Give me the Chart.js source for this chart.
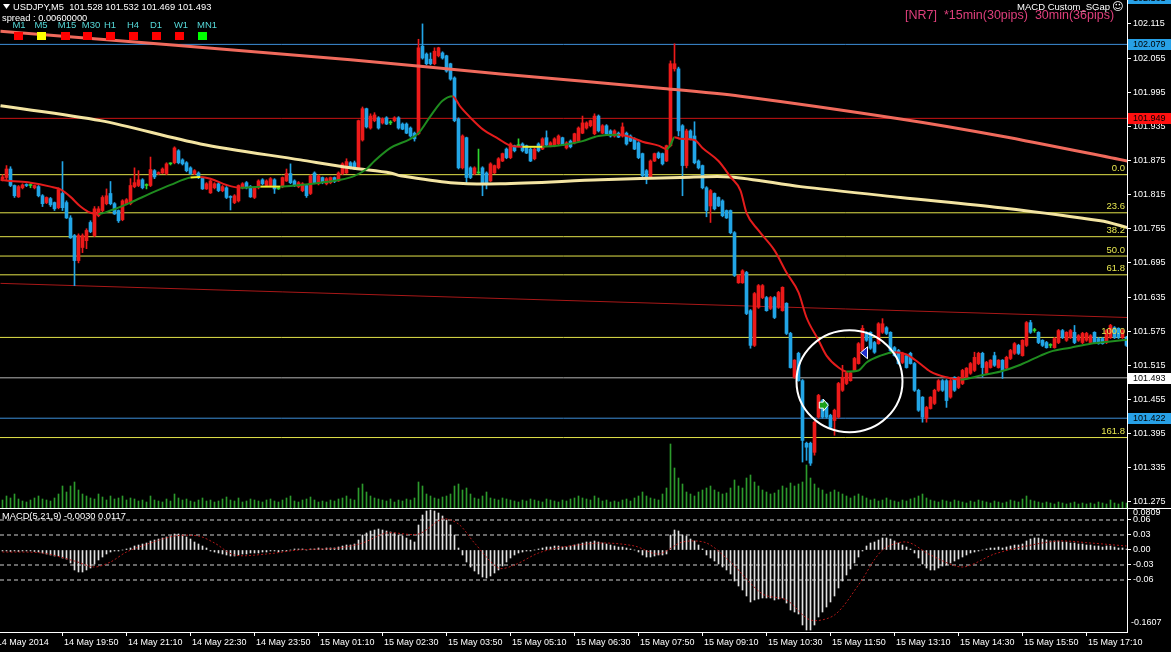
<!DOCTYPE html>
<html>
<head>
<meta charset="utf-8">
<script src="https://cdn.jsdelivr.net/npm/chart.js"></script>
<style>
  body { margin: 0; background: #000; overflow: hidden; }
  #wrap { position: relative; width: 1171px; height: 652px; background: #000; }
  canvas { position: absolute; left: 0; }
</style>
</head>
<body>
<div id="wrap">
  <canvas id="main" width="1171" height="508" style="top:0;width:1171px;height:508px"></canvas>
  <canvas id="macd" width="1171" height="144" style="top:508px;width:1171px;height:144px"></canvas>
</div>
<script>
// prices are kept in thousandths above 101.000 (850 -> 101.850)
const openV = [
  843,845,860,831,811,827,832,831,827,829, 813,801,808,801,792,817,801,774,743,699,
  722,734,766,743,778,787,799,817,799,787, 771,799,799,829,831,841,831,831,857,852,
  853,852,869,871,892,876,871,862,852,853, 845,825,818,827,834,822,827,811,801,804,
  827,836,829,810,827,841,831,831,841,825, 829,839,852,839,829,822,831,817,853,834,
  845,834,836,845,839,852,853,871,871,862, 911,966,932,945,950,941,950,941,945,950,
  939,939,932,923,922,1076,1062,1053,1045,1059, 1064,1059,1045,1020,948,862,915,862,852,853,
  862,853,839,853,862,874,895,880,901,901, 904,901,895,878,904,895,915,901,901,904,
  915,897,909,906,909,923,932,936,922,953, 923,936,927,918,923,918,923,918,913,906,
  887,857,845,874,888,887,874,901,1036,1036, 936,866,927,918,874,866,827,795,817,810,
  804,787,787,748,660,660,678,611,550,617, 634,634,615,634,617,611,624,571,494,536,
  488,378,378,362,424,453,448,427,418,424, 471,483,488,506,518,541,573,573,555,553,
  573,581,573,546,541,520,532,536,518,471, 459,422,439,448,471,488,488,459,494,476,
  483,494,501,506,518,536,501,511,532,511, 524,510,527,536,550,532,550,590,576,573,
  559,555,550,546,555,576,559,564,573,559, 555,559,555,573,562,562,555,564,581,580,
  564,564
];
const closeV = [
  846,860,831,813,829,832,831,831,831,813, 799,810,797,790,824,792,774,739,699,743,
  743,752,750,790,790,810,813,799,781,769, 804,806,831,836,841,827,831,859,846,853,
  860,869,869,897,871,869,857,852,857,845, 825,834,839,834,822,829,810,810,813,831,
  834,827,811,827,839,834,839,843,825,825, 845,852,836,831,836,834,813,848,836,848,
  836,843,845,838,853,869,873,862,860,945, 966,934,953,955,932,948,939,941,950,932,
  930,923,918,913,1073,1055,1045,1045,1067,1073, 1055,1032,1018,945,862,918,845,845,862,853,
  836,836,869,866,878,887,880,904,892,901, 892,888,874,895,892,913,902,906,913,918,
  902,906,899,922,932,941,941,945,953,927, 936,922,918,927,916,934,904,909,895,880,
  848,845,874,887,880,869,901,1045,1045,927, 866,927,913,871,862,827,787,822,790,795,
  778,774,748,673,673,681,606,550,641,655, 655,611,634,599,643,652,571,511,524,488,
  383,371,343,415,462,424,424,406,436,483, 494,502,502,527,553,580,559,545,538,588,
  588,571,541,532,518,536,511,518,471,436, 424,441,459,471,488,471,453,488,471,494,
  506,510,518,529,536,511,520,524,515,524, 506,529,541,553,536,559,590,573,576,555,
  550,546,550,562,576,564,573,576,555,567, 571,571,567,555,553,553,576,585,564,564,
  576,550
];
const highV = [
  850,866,864,832,831,834,834,834,832,831, 815,811,810,802,827,873,804,778,745,746,
  746,755,769,794,794,813,825,838,801,788, 806,808,843,862,857,843,834,881,859,855,
  862,871,871,899,894,878,873,864,859,855, 846,836,841,836,836,831,829,813,815,832,
  836,838,831,829,841,843,841,845,843,827, 846,860,869,841,838,836,832,850,855,850,
  846,845,846,846,855,871,878,873,874,946, 969,967,957,959,952,950,952,945,952,952,
  941,941,934,925,1088,1115,1064,1064,1073,1074, 1066,1060,1046,1022,950,920,916,864,864,895,
  864,855,871,867,880,888,897,906,902,913, 906,902,897,897,906,915,927,908,915,920,
  916,908,911,923,934,953,943,946,957,955, 938,938,929,929,925,941,925,920,915,908,
  888,859,876,888,890,888,902,1050,1080,1039, 938,930,929,943,876,867,829,824,818,811,
  806,788,788,750,674,683,680,613,643,657, 657,636,636,636,645,653,625,573,525,538,
  490,380,380,417,464,455,450,429,438,485, 515,504,504,529,555,585,574,574,557,590,
  597,583,574,548,543,538,534,538,520,473, 460,443,460,473,490,490,490,490,495,495,
  508,511,520,538,538,538,522,525,538,525, 525,531,543,555,552,560,592,594,580,574,
  560,557,553,564,578,578,574,578,585,569, 573,573,569,574,564,564,578,587,583,581,
  578,566
];
const lowV = [
  839,841,829,810,810,825,829,827,825,811, 794,799,794,787,790,787,773,738,655,695,
  713,720,748,741,776,785,797,797,780,766, 769,797,797,827,829,825,825,829,843,850,
  852,850,867,869,869,867,855,850,850,843, 824,824,817,825,820,820,808,788,799,802,
  825,825,810,808,825,832,829,829,817,824, 827,838,834,829,827,820,810,815,834,832,
  834,832,834,836,838,850,852,860,859,860, 909,932,930,943,930,939,938,938,943,930,
  929,922,916,909,920,1053,1043,1043,1043,1057, 1053,1030,1016,943,860,860,834,843,850,852,
  813,825,838,852,860,873,878,878,890,899, 890,887,873,876,890,894,901,899,899,902,
  901,895,897,904,908,922,930,934,920,925, 922,920,916,916,915,916,902,908,894,878,
  846,834,843,873,878,867,873,899,1032,918, 813,862,911,869,860,825,776,766,788,794,
  776,773,746,671,659,659,604,545,548,615, 632,610,613,597,615,610,569,510,492,487,
  345,348,339,357,422,422,422,404,392,422, 469,481,487,504,517,539,557,543,536,552,
  571,569,539,531,517,518,510,517,469,434, 415,415,438,446,469,469,441,457,469,474,
  481,492,499,504,516,494,499,510,513,510, 492,508,525,534,534,531,548,571,573,553,
  548,545,546,545,553,562,557,562,553,557, 553,557,553,553,552,552,553,562,562,562,
  562,548
];
// tick volume per bar
const volume = [
  80,120,100,140,90,70,60,80,100,120,90,80,70,100,140,220,
  160,220,260,180,140,120,100,90,140,110,80,120,90,100,120,80,
  100,90,70,80,60,120,80,70,60,90,70,140,100,80,90,70,
  60,80,100,70,80,60,70,90,110,80,70,100,60,70,90,80,
  70,60,80,90,70,60,80,100,120,70,60,80,90,110,80,60,
  70,60,80,70,90,100,120,90,80,200,240,160,120,100,90,80,
  70,90,60,80,70,90,80,100,260,220,140,120,100,90,110,120,
  140,220,240,180,200,140,100,90,120,160,100,90,80,100,90,80,
  70,60,80,70,90,80,70,60,90,80,70,60,80,70,90,100,
  120,100,90,80,120,100,70,80,60,70,60,80,90,70,100,120,
  160,120,100,90,80,140,200,640,400,300,240,160,140,120,160,180,
  200,220,180,160,140,150,200,280,220,200,300,330,260,220,180,160,
  140,150,180,220,200,250,220,240,260,430,300,240,200,180,140,160,
  180,160,140,120,100,120,140,120,100,80,90,70,80,100,80,70,
  60,80,70,90,100,120,140,100,80,70,60,80,70,60,80,70,
  60,50,70,60,80,70,60,50,70,60,50,60,80,70,60,90,
  120,80,70,60,50,60,50,40,60,50,40,50,60,40,50,40,
  50,40,60,50,40,80,50,40,60,50
];
// MACD(5,21,9) histogram, thousandths
const macdHist = [
  -2,-2,-3,-2,-3,-2,-2,-2,-3,-4,
  -6,-8,-10,-12,-12,-16,-18,-26,
  -40,-44,-44,-40,-36,
  -28,-20,-14,-8,-4,
  -2,-2,0,2,
  4,8,10,12,14,18,20,22,24,26,28,32,32,30,26,22,
  16,12,8,4,
  -2,-4,-6,-8,-10,-12,-12,-10,-8,-8,-6,-6,
  -6,-4,-4,-2,-2,-4,-2,-2,0,2,2,2,0,2,2,4,
  2,4,4,4,6,8,10,10,12,
  20,30,34,38,40,42,40,38,36,34,30,28,24,20,16,50,70,78,80,78,74,68,60,50,30,
  4,-10,-24,-34,-42,-48,-54,-56,-52,-46,-40,-32,-24,-16,
  -10,-6,-4,-2,-2,0,2,4,6,6,8,8,6,6,8,10,
  12,14,16,16,18,16,14,12,10,8,6,6,4,2,0,-4,
  -10,-14,-14,-12,-10,-10,-8,
  30,40,38,30,28,22,18,10,2,
  -10,-16,-22,-28,-34,-40,-48,-62,-72,-80,-92,-104,-100,-98,-96,-96,-96,-100,-98,-96,-106,-120,-124,-128,
  -150,-160,-160,-150,-134,-124,-114,-104,-92,-76,-62,-50,-38,-26,-14,-2,
  8,14,16,20,24,24,22,18,14,10,6,2,-6,-16,
  -28,-36,-40,-40,-36,-32,-30,-26,-22,-18,-14,-10,-6,-4,-2,0,
  2,4,4,6,4,6,8,10,10,12,18,22,24,24,22,20,18,18,18,16,16,14,14,12,12,10,10,8,8,6,8,8,6,4,4,2
];
const sigBars = [0,10,18,23,27,31,37,43,49,53,58,66,74,84,90,96,104,110,114,118,124,128,134,140,150,158,164,170,176,182,190,196,202,208,214,220,226,232,240,248,256,264,272,281];
const sigVals = [-4,-6,-22,-34,-24,-4,14,28,28,14,-10,-8,0,4,14,34,32,62,52,14,-36,-30,-6,6,14,8,-8,16,14,-24,-88,-100,-140,-130,-70,0,16,-10,-34,-8,8,18,14,8];

// moving averages, read at a subset of bars
const maBars = [-0.5,2,7,12,14.5,17,19.5,22,24,27,32,37,42,47,49.5,52,56,59.5,64.5,69.5,74.5,79.5,84.5,88,91,93,97,102,104,107,110,112.5,114.5,117,120,124,127,130,135,140,145,149,154,157,160,164,166,167,168,169.5,173,175,179,182,184.5,186,189,193,196,199,201,204,206,209,211,214,216,219.5,223,226,229,232,236,239.5,244.5,249.5,254.5,259.5,262,267,272,277,281.25];
const maVals = [841,839,836,829,824,811,794,783,781,787,801,817,832,845,846,843,832,827,829,829,832,836,841,848,860,874,897,913,923,953,980,988,969,950,930,913,901,899,899,902,909,918,920,916,908,901,895,902,916,913,911,897,874,846,822,783,752,717,678,643,599,559,532,511,504,506,520,532,538,534,520,504,494,490,497,504,516,532,539,546,553,557,560];
const ma200Bars = [-0.5,24.5,49.5,74.5,87,97,99.5,112,124.5,149.5,169.5,182,199.5,224.5,249.5,274.5,281.25];
const ma200Vals = [971,945,904,876,862,853,848,836,834,841,845,846,829,810,792,769,757];
const slowBars = [-0.5,87,124.5,164.5,184.5,224.5,249.5,281.25];
const slowVals = [1102,1052,1027,1002,988,948,918,874];
const trendBars = [-0.5,281.25];
const trendVals = [659,599];

const fibLevels = ['0.0','23.6','38.2','50.0','61.8','100.0','161.8'];
const fibPrices = [101.850,101.783,101.741,101.707,101.674,101.564,101.388];
const levelPrices = [102.079,101.949,101.493,101.422];
const levelColors = ['#3d8fd9','#c81414','#b4b4b4','#3d8fd9'];
const markPrices = [102.161,102.079,101.949,101.493,101.422];
const markFills = ['#27a0e6','#27a0e6','#ff1010','#ffffff','#27a0e6'];

const priceTicks = [101.275,101.335,101.395,101.455,101.515,101.575,101.635,101.695,101.755,101.815,101.875,101.935,101.995,102.055,102.115];
const macdTicks = [0.06,0.03,0,-0.03,-0.06];
const macdLevels = [0.06,0.03,-0.03,-0.06];
const tickBars = [-1.8,15,31,47,63,79,95,111,127,143,159,175,191,207,223,239,255,271];
const tickLabels = ['14 May 2014','14 May 19:50','14 May 21:10','14 May 22:30','14 May 23:50','15 May 01:10','15 May 02:30','15 May 03:50','15 May 05:10','15 May 06:30','15 May 07:50','15 May 09:10','15 May 10:30','15 May 11:50','15 May 13:10','15 May 14:30','15 May 15:50','15 May 17:10'];

const tfNames = ['M1','M5','M15','M30','H1','H4','D1','W1','MN1'];
const tfX = [19,41,67,91,110,133,156,181,207];
const tfBoxX = [18,41,65,87,110,133,156,179,202];
const tfColors = ['#ff0000','#ffff00','#ff0000','#ff0000','#ff0000','#ff0000','#ff0000','#ff0000','#00ff00'];

const BASE = 101;
const P = v => BASE + v / 1000;
const X0 = -0.625, X1 = 281.125;
const FONT = "'Liberation Sans', Arial, sans-serif";
const RED = '#ec1a1a', BLUE = '#22a5e6', DOJI = '#2ed62e';
const GRN = '#1f8c1f', MARED = '#e41c1c', YEL = '#f0f030';

function candleColor(i) {
  return closeV[i] > openV[i] ? RED : closeV[i] < openV[i] ? BLUE : DOJI;
}
function flat(p) { return [{x: X0, y: p}, {x: X1, y: p}]; }
function pts(bars, vals, f) { return bars.map((b, i) => ({x: b, y: f(vals[i])})); }
function lineDs(data, color, width, order, extra) {
  return Object.assign({type: 'line', data, borderColor: color, borderWidth: width,
    pointRadius: 0, fill: false, order}, extra || {});
}
function txt(ctx, s, x, y, color, size, align, family) {
  ctx.font = size + 'px ' + (family || FONT);
  ctx.fillStyle = color;
  ctx.textAlign = align || 'left';
  ctx.textBaseline = 'middle';
  ctx.fillText(s, x, y);
}

const mainSets = [];
fibPrices.forEach(p => mainSets.push(lineDs(flat(p), '#e3e34a', 1, 20)));
levelPrices.forEach((p, i) => mainSets.push(lineDs(flat(p), levelColors[i], 1, 20)));
mainSets.push(lineDs(pts(trendBars, trendVals, P), '#a81818', 1, 19));
mainSets.push({type: 'bar', yAxisID: 'yVol', order: 18,
  data: volume.map((v, i) => ({x: i, y: v})),
  backgroundColor: '#2c9a2c', barThickness: 1, grouped: false});
mainSets.push({type: 'bar', order: 6,
  data: lowV.map((v, i) => ({x: i, y: [P(v), P(highV[i])]})),
  backgroundColor: c => candleColor(c.dataIndex), barThickness: 1, grouped: false});
mainSets.push({type: 'bar', order: 5,
  data: openV.map((v, i) => ({x: i, y: [P(v), P(closeV[i])]})),
  backgroundColor: c => candleColor(c.dataIndex), barThickness: 3, grouped: false, minBarLength: 1});
mainSets.push(lineDs(pts(ma200Bars, ma200Vals, P), '#f3e4a2', 3, 4, {tension: 0.3}));
mainSets.push(lineDs(pts(slowBars, slowVals, P), '#f06a5c', 3, 3, {tension: 0.3}));
mainSets.push(lineDs(pts(maBars, maVals, P), MARED, 2, 2, {
  cubicInterpolationMode: 'monotone',
  segment: {borderColor: c => {
    const d = c.p1.parsed.y - c.p0.parsed.y;
    return Math.abs(d) < 0.0012 ? YEL : d > 0 ? GRN : MARED;
  }}
}));

const mainOverlay = {
  id: 'mainOverlay',
  afterDraw(chart) {
    const ctx = chart.ctx, ys = chart.scales.y, xs = chart.scales.x;
    ctx.save();
    fibPrices.forEach((p, i) => txt(ctx, fibLevels[i], 1125, ys.getPixelForValue(p) - 6, '#e6e650', 9.5, 'right'));
    markPrices.forEach((p, i) => {
      const y = Math.round(ys.getPixelForValue(p));
      ctx.fillStyle = markFills[i];
      ctx.fillRect(1128, y - 5, 43, 11);
      txt(ctx, p.toFixed(3), 1133, y + 0.5, '#000', 9);
    });
    // circle annotation
    ctx.strokeStyle = '#fff';
    ctx.lineWidth = 2;
    ctx.beginPath();
    ctx.ellipse(xs.getPixelForValue(211.75), ys.getPixelForValue(101.487), 53, 51, 0, 0, Math.PI * 2);
    ctx.stroke();
    // arrows
    let ax = xs.getPixelForValue(205.2), ay = ys.getPixelForValue(101.445);
    ctx.fillStyle = '#1aa01a'; ctx.strokeStyle = '#fff'; ctx.lineWidth = 1;
    ctx.beginPath(); ctx.moveTo(ax - 4, ay - 3); ctx.lineTo(ax, ay - 3); ctx.lineTo(ax, ay - 6);
    ctx.lineTo(ax + 5, ay); ctx.lineTo(ax, ay + 6); ctx.lineTo(ax, ay + 3); ctx.lineTo(ax - 4, ay + 3);
    ctx.closePath(); ctx.fill(); ctx.stroke();
    ax = xs.getPixelForValue(215.5); ay = ys.getPixelForValue(101.537);
    ctx.fillStyle = '#2030d0';
    ctx.beginPath(); ctx.moveTo(ax - 4, ay); ctx.lineTo(ax + 3, ay - 6); ctx.lineTo(ax + 3, ay + 6);
    ctx.closePath(); ctx.fill(); ctx.stroke();
    // header
    ctx.fillStyle = '#fff';
    ctx.beginPath(); ctx.moveTo(3, 4); ctx.lineTo(10, 4); ctx.lineTo(6.5, 9); ctx.closePath(); ctx.fill();
    txt(ctx, 'USDJPY,M5  101.528 101.532 101.469 101.493', 13, 7, '#fff', 9.3);
    txt(ctx, 'spread : 0.00600000', 2, 18, '#fff', 9.3);
    tfNames.forEach((n, i) => {
      txt(ctx, n, tfX[i], 25, '#55d8d8', 9.5, 'center');
      ctx.fillStyle = tfColors[i];
      ctx.fillRect(tfBoxX[i] - 4, 32, 9, 8);
    });
    txt(ctx, 'MACD Custom_SGap', 1110, 7, '#fff', 9.5, 'right');
    txt(ctx, '\u263A', 1112, 7, '#fff', 11, 'left', "'DejaVu Sans', sans-serif");
    txt(ctx, '[NR7]  *15min(30pips)  30min(36pips)', 905, 16, '#df3f7c', 12.5);
    ctx.restore();
  }
};

new Chart(document.getElementById('main'), {
  type: 'bar',
  data: {datasets: mainSets},
  options: {
    responsive: false, animation: false, devicePixelRatio: 1, events: [],
    layout: {padding: 0},
    plugins: {legend: {display: false}, tooltip: {enabled: false}},
    scales: {
      x: {type: 'linear', min: X0, max: X1, offset: false, display: false},
      y: {
        position: 'right', min: 101.2642, max: 102.157,
        afterBuildTicks: s => { s.ticks = priceTicks.map(v => ({value: v})); },
        afterFit: s => { s.width = 44; s.paddingTop = 0; s.paddingBottom = 0; },
        ticks: {color: '#fff', padding: 2, font: {family: FONT, size: 9}, callback: v => v.toFixed(3)},
        grid: {drawOnChartArea: false, color: '#fff', tickLength: 4},
        border: {color: '#fff'}
      },
      yVol: {display: false, min: 0, max: 5080}
    }
  },
  plugins: [mainOverlay]
});

const macdSets = [];
macdLevels.forEach(l => macdSets.push(lineDs(flat(l), '#d0d0d0', 1, 10, {borderDash: [4, 3]})));
macdSets.push({type: 'bar', order: 5,
  data: macdHist.map((v, i) => ({x: i, y: v / 1000})),
  backgroundColor: '#e2e2e2', barThickness: 1, grouped: false});
macdSets.push(lineDs(pts(sigBars, sigVals, v => v / 1000), '#b01818', 1, 2, {borderDash: [2, 2], tension: 0.3}));

const macdOverlay = {
  id: 'macdOverlay',
  afterDraw(chart) {
    const ctx = chart.ctx;
    ctx.save();
    ctx.strokeStyle = '#fff';
    ctx.lineWidth = 1;
    ctx.beginPath(); ctx.moveTo(0, 0.5); ctx.lineTo(1171, 0.5); ctx.stroke();
    txt(ctx, 'MACD(5,21,9) -0.0030 0.0117', 2, 8, '#fff', 9.3);
    txt(ctx, '0.0809', 1133, 5, '#fff', 9);
    txt(ctx, '-0.1607', 1131, 115, '#fff', 9);
    ctx.restore();
  }
};

new Chart(document.getElementById('macd'), {
  type: 'bar',
  data: {datasets: macdSets},
  options: {
    responsive: false, animation: false, devicePixelRatio: 1, events: [],
    layout: {padding: {top: 1, left: 0, right: 0, bottom: 0}},
    plugins: {legend: {display: false}, tooltip: {enabled: false}},
    scales: {
      x: {
        type: 'linear', min: X0, max: X1, offset: false, position: 'bottom',
        afterBuildTicks: s => { s.ticks = tickBars.map(v => ({value: v})); },
        afterFit: s => { s.height = 20; s.paddingLeft = 0; s.paddingRight = 0; },
        ticks: {color: '#fff', font: {family: FONT, size: 9}, align: 'start', labelOffset: 1.5,
          padding: 1, autoSkip: false, maxRotation: 0, callback: (v, i) => tickLabels[i]},
        grid: {drawOnChartArea: false, offset: false, color: '#fff', tickLength: 4},
        border: {color: '#fff'}
      },
      y: {
        position: 'right', min: -0.164, max: 0.082,
        afterBuildTicks: s => { s.ticks = macdTicks.map(v => ({value: v})); },
        afterFit: s => { s.width = 44; s.paddingTop = 0; s.paddingBottom = 0; },
        ticks: {color: '#fff', padding: 2, font: {family: FONT, size: 9}, callback: v => v.toFixed(2)},
        grid: {drawOnChartArea: false, color: '#fff', tickLength: 4},
        border: {color: '#fff'}
      }
    }
  },
  plugins: [macdOverlay]
});
</script>
</body>
</html>
